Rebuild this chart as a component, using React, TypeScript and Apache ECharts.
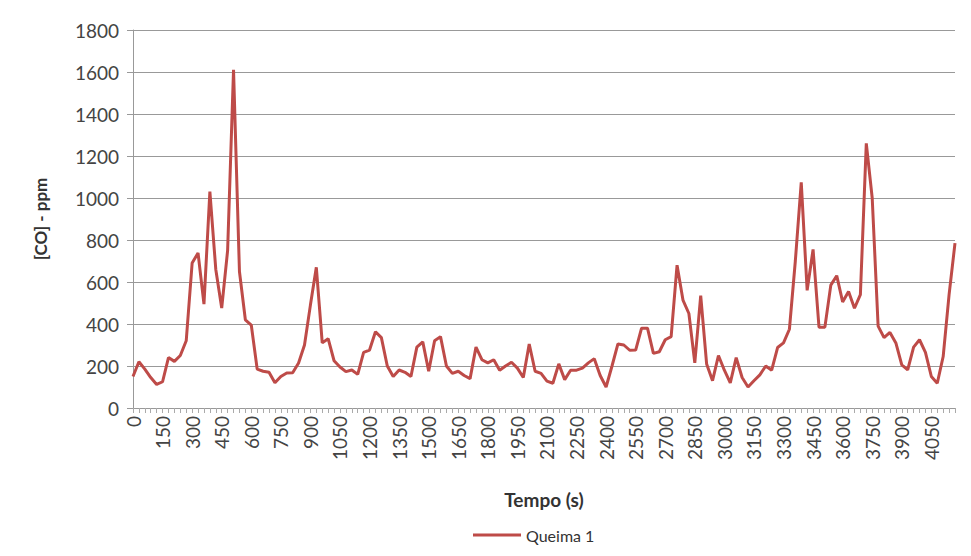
import React, { useEffect, useRef } from "react";
import * as echarts from "echarts";

const STEP_S = 30;
const coValues: number[] = [
  150, 220, 185, 145, 112, 125, 240, 222, 250, 320,
  690, 738, 495, 1030, 660, 476, 750, 1610, 650, 420,
  395, 185, 175, 170, 120, 150, 167, 168, 214, 300,
  490, 670, 310, 330, 225, 195, 173, 181, 160, 265,
  276, 363, 335, 200, 150, 181, 170, 150, 290, 315,
  175, 320, 340, 200, 165, 175, 155, 140, 290, 230,
  215, 230, 180, 200, 218, 190, 145, 305, 175, 165,
  128, 118, 210, 135, 180, 180, 190, 215, 235, 155,
  100, 200, 305, 300, 275, 276, 380, 380, 260, 268,
  325, 340, 680, 514, 450, 215, 535, 210, 130, 250,
  180, 120, 240, 145, 100, 130, 158, 200, 180, 288,
  310, 375, 700, 1075, 560, 755, 385, 385, 585, 630,
  505, 555, 475, 540, 1260, 1000, 390, 335, 360, 310,
  205, 182, 290, 325, 265, 150, 118, 245, 540, 785,
];
const timeCategories: string[] = coValues.map((_, i) => String(i * STEP_S));
const seriesName = "Queima 1";
const yAxisName = "[CO] - ppm";
const xAxisName = "Tempo (s)";

export default function App() {
  const ref = useRef<HTMLDivElement>(null);
  useEffect(() => {
    if (!ref.current) return;
    const chart = echarts.init(ref.current, undefined, { renderer: "svg" });
    const font = "Lato, 'Open Sans', sans-serif";
    chart.setOption({
      animation: false,
      backgroundColor: "#ffffff",
      grid: { left: 133, right: 16, top: 30, bottom: 148, containLabel: false },
      legend: {
        data: [{ name: seriesName, icon: "rect" }],
        bottom: 8,
        left: 468,
        itemWidth: 48,
        itemHeight: 3,
        itemGap: 4,
        textStyle: { fontFamily: font, fontSize: 16, color: "#333" },
      },
      xAxis: {
        type: "category",
        data: timeCategories,
        boundaryGap: false,
        name: xAxisName,
        nameLocation: "middle",
        nameGap: 82,
        nameTextStyle: { fontFamily: font, fontSize: 19, fontWeight: "bold", color: "#333" },
        axisLine: { lineStyle: { color: "#999", width: 1 } },
        axisTick: { show: true, interval: 0, length: 5, lineStyle: { color: "#aaa" } },
        axisLabel: {
          interval: 4,
          rotate: 90,
          fontFamily: font,
          fontSize: 19,
          color: "#444",
          margin: 8,
        },
        splitLine: { show: false },
      },
      yAxis: {
        type: "value",
        min: 0,
        max: 1800,
        interval: 200,
        name: yAxisName,
        nameLocation: "middle",
        nameGap: 84,
        nameTextStyle: { fontFamily: font, fontSize: 17, fontWeight: "bold", color: "#333" },
        axisLine: { show: true, lineStyle: { color: "#999", width: 1 } },
        axisTick: { show: true, length: 6, lineStyle: { color: "#999" } },
        axisLabel: {
          fontFamily: font,
          fontSize: 19,
          color: "#444",
          margin: 14,
          formatter: (v: number) => String(v),
        },
        splitLine: { show: true, lineStyle: { color: "#999", width: 1 } },
      },
      series: [
        {
          name: seriesName,
          type: "line",
          data: coValues,
          symbol: "none",
          smooth: false,
          lineStyle: { color: "#BE4B48", width: 3 },
          itemStyle: { color: "#BE4B48" },
        },
      ],
    });
    return () => chart.dispose();
  }, []);
  return (
    <div
      ref={ref}
      style={{ position: "absolute", left: 0, top: 0, width: 971, height: 556, background: "#fff" }}
    />
  );
}
